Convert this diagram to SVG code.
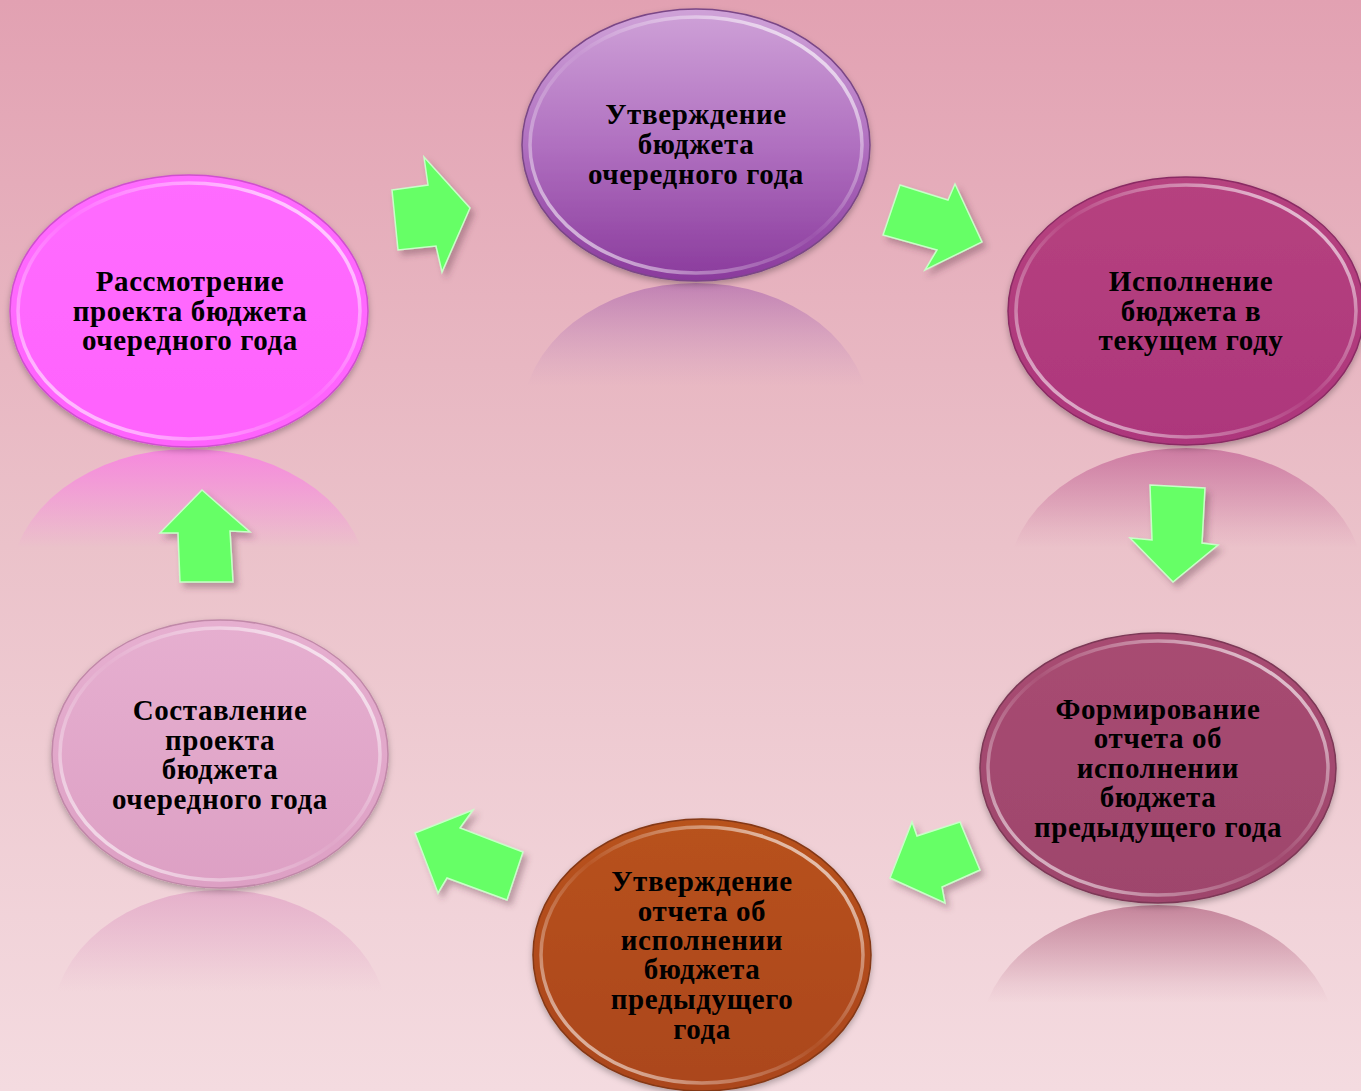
<svg xmlns="http://www.w3.org/2000/svg" width="1361" height="1091" viewBox="0 0 1361 1091">
  <defs>
    <linearGradient id="bg" x1="0" y1="0" x2="0" y2="1">
      <stop offset="0" stop-color="#e2a1b2"/>
      <stop offset="0.5" stop-color="#ebc2ca"/>
      <stop offset="1" stop-color="#f4dbe0"/>
    </linearGradient>
    <linearGradient id="ring" x1="1" y1="0" x2="0" y2="1">
      <stop offset="0" stop-color="#ffffff" stop-opacity="0.95"/>
      <stop offset="0.25" stop-color="#ffffff" stop-opacity="0.4"/>
      <stop offset="0.5" stop-color="#ffffff" stop-opacity="0.05"/>
      <stop offset="0.75" stop-color="#ffffff" stop-opacity="0.35"/>
      <stop offset="1" stop-color="#ffffff" stop-opacity="0.85"/>
    </linearGradient>
    <linearGradient id="g1" x1="0" y1="0" x2="0" y2="1">
      <stop offset="0" stop-color="#cfa2d8"/>
      <stop offset="0.5" stop-color="#b070c0"/>
      <stop offset="1" stop-color="#8a3a9c"/>
    </linearGradient>
    <linearGradient id="g2" x1="0" y1="0" x2="0" y2="1">
      <stop offset="0" stop-color="#b6427f"/>
      <stop offset="1" stop-color="#ad367c"/>
    </linearGradient>
    <linearGradient id="g3" x1="0" y1="0" x2="0" y2="1">
      <stop offset="0" stop-color="#a84c72"/>
      <stop offset="1" stop-color="#9e456c"/>
    </linearGradient>
    <linearGradient id="g4" x1="0" y1="0" x2="0" y2="1">
      <stop offset="0" stop-color="#b8521f"/>
      <stop offset="1" stop-color="#ab461b"/>
    </linearGradient>
    <linearGradient id="g5" x1="0" y1="0" x2="0" y2="1">
      <stop offset="0" stop-color="#e6afd0"/>
      <stop offset="1" stop-color="#dda0c4"/>
    </linearGradient>
    <linearGradient id="g6" x1="0" y1="0" x2="0" y2="1">
      <stop offset="0" stop-color="#ff6cff"/>
      <stop offset="1" stop-color="#ff62fd"/>
    </linearGradient>
    <!-- reflections -->
    <linearGradient id="r1" gradientUnits="userSpaceOnUse" x1="0" y1="283" x2="0" y2="386">
      <stop offset="0" stop-color="#9a4fa8" stop-opacity="0.5"/>
      <stop offset="0.8" stop-color="#b27abd" stop-opacity="0.1"/>
      <stop offset="1" stop-color="#b27abd" stop-opacity="0"/>
    </linearGradient>
    <linearGradient id="r2" gradientUnits="userSpaceOnUse" x1="0" y1="448" x2="0" y2="548">
      <stop offset="0" stop-color="#b0397e" stop-opacity="0.5"/>
      <stop offset="0.8" stop-color="#b0397e" stop-opacity="0.08"/>
      <stop offset="1" stop-color="#b0397e" stop-opacity="0"/>
    </linearGradient>
    <linearGradient id="r3" gradientUnits="userSpaceOnUse" x1="0" y1="905" x2="0" y2="1003">
      <stop offset="0" stop-color="#a04468" stop-opacity="0.55"/>
      <stop offset="0.8" stop-color="#a04468" stop-opacity="0.08"/>
      <stop offset="1" stop-color="#a04468" stop-opacity="0"/>
    </linearGradient>
    <linearGradient id="r5" gradientUnits="userSpaceOnUse" x1="0" y1="890" x2="0" y2="992">
      <stop offset="0" stop-color="#dc94c0" stop-opacity="0.55"/>
      <stop offset="0.8" stop-color="#dc94c0" stop-opacity="0.1"/>
      <stop offset="1" stop-color="#dc94c0" stop-opacity="0"/>
    </linearGradient>
    <linearGradient id="r6" gradientUnits="userSpaceOnUse" x1="0" y1="449" x2="0" y2="548">
      <stop offset="0" stop-color="#ff66ee" stop-opacity="0.6"/>
      <stop offset="0.8" stop-color="#ff66ee" stop-opacity="0.12"/>
      <stop offset="1" stop-color="#ff66ee" stop-opacity="0"/>
    </linearGradient>
    <filter id="esh" x="-10%" y="-10%" width="120%" height="125%">
      <feDropShadow dx="0" dy="3" stdDeviation="3" flood-color="#000000" flood-opacity="0.28"/>
    </filter>
    <filter id="ash" x="-20%" y="-20%" width="150%" height="150%">
      <feDropShadow dx="4" dy="5" stdDeviation="3" flood-color="#5a3040" flood-opacity="0.35"/>
    </filter>
    <style>
      .lbl { font-family: "Liberation Serif", "DejaVu Serif", serif; font-weight: bold; font-size: 29px; letter-spacing: 0.6px; fill: #000000; text-anchor: middle; }
      .ring { fill: none; stroke: url(#ring); stroke-width: 3.5; }
      .arrow { fill: #66ff66; stroke: #c8ffc8; stroke-width: 1.5; stroke-linejoin: miter; filter: url(#ash); }
    </style>
  </defs>

  <rect x="0" y="0" width="1361" height="1091" fill="url(#bg)"/>

  <g id="reflections">
    <ellipse cx="696" cy="419" rx="174" ry="136" fill="url(#r1)"/>
    <ellipse cx="1186" cy="582" rx="178" ry="134" fill="url(#r2)"/>
    <ellipse cx="1158" cy="1040" rx="178" ry="135" fill="url(#r3)"/>
    <ellipse cx="220" cy="1024" rx="168" ry="134" fill="url(#r5)"/>
    <ellipse cx="189" cy="585" rx="179" ry="136" fill="url(#r6)"/>
  </g>

  <g id="n1">
    <ellipse cx="696" cy="145" rx="174" ry="136" fill="url(#g1)" stroke="#7a4686" stroke-width="1.5" filter="url(#esh)"/>
    <ellipse cx="696" cy="145" rx="166" ry="128" class="ring"/>
    <text class="lbl" x="696" y="124">Утверждение</text>
    <text class="lbl" x="696" y="154">бюджета</text>
    <text class="lbl" x="696" y="184">очередного года</text>
  </g>

  <g id="n2">
    <ellipse cx="1186" cy="311" rx="178" ry="134" fill="url(#g2)" stroke="#8a2c64" stroke-width="1.5" filter="url(#esh)"/>
    <ellipse cx="1186" cy="311" rx="170" ry="126" class="ring"/>
    <text class="lbl" x="1191" y="291">Исполнение</text>
    <text class="lbl" x="1191" y="321">бюджета в</text>
    <text class="lbl" x="1191" y="350">текущем году</text>
  </g>

  <g id="n3">
    <ellipse cx="1158" cy="768" rx="178" ry="135" fill="url(#g3)" stroke="#7c3856" stroke-width="1.5" filter="url(#esh)"/>
    <ellipse cx="1158" cy="768" rx="170" ry="127" class="ring"/>
    <text class="lbl" x="1158" y="719">Формирование</text>
    <text class="lbl" x="1158" y="748">отчета об</text>
    <text class="lbl" x="1158" y="778">исполнении</text>
    <text class="lbl" x="1158" y="807">бюджета</text>
    <text class="lbl" x="1158" y="837">предыдущего года</text>
  </g>

  <g id="n4">
    <ellipse cx="702" cy="955" rx="169" ry="136" fill="url(#g4)" stroke="#843816" stroke-width="1.5" filter="url(#esh)"/>
    <ellipse cx="702" cy="955" rx="161" ry="128" class="ring"/>
    <text class="lbl" x="702" y="891">Утверждение</text>
    <text class="lbl" x="702" y="921">отчета об</text>
    <text class="lbl" x="702" y="950">исполнении</text>
    <text class="lbl" x="702" y="979">бюджета</text>
    <text class="lbl" x="702" y="1009">предыдущего</text>
    <text class="lbl" x="702" y="1039">года</text>
  </g>

  <g id="n5">
    <ellipse cx="220" cy="754" rx="168" ry="134" fill="url(#g5)" stroke="#c088a8" stroke-width="1.5" filter="url(#esh)"/>
    <ellipse cx="220" cy="754" rx="160" ry="126" class="ring"/>
    <text class="lbl" x="220" y="720">Составление</text>
    <text class="lbl" x="220" y="750">проекта</text>
    <text class="lbl" x="220" y="779">бюджета</text>
    <text class="lbl" x="220" y="809">очередного года</text>
  </g>

  <g id="n6">
    <ellipse cx="189" cy="311" rx="179" ry="136" fill="url(#g6)" stroke="#d050d0" stroke-width="1.5" filter="url(#esh)"/>
    <ellipse cx="189" cy="311" rx="171" ry="128" class="ring"/>
    <text class="lbl" x="190" y="291">Рассмотрение</text>
    <text class="lbl" x="190" y="321">проекта бюджета</text>
    <text class="lbl" x="190" y="350">очередного года</text>
  </g>

  <g id="connectors">
    <polygon class="arrow" points="392,190 428,185 424,157 470,208 442,272 436,246 398,250"/>
    <polygon class="arrow" points="900,185 948,200 955,184 982,242 925,270 937,250 883,235"/>
    <polygon class="arrow" points="1150,485 1205,488 1202,543 1218,545 1173,582 1130,538 1152,540"/>
    <polygon class="arrow" points="912,822 917,836 960,822 980,870 942,887 945,903 890,878"/>
    <polygon class="arrow" points="473,810 460,828 523,852 507,900 447,878 438,893 415,833"/>
    <polygon class="arrow" points="202,490 250,532 230,531 233,582 180,582 178,533 160,533"/>
  </g>
</svg>
